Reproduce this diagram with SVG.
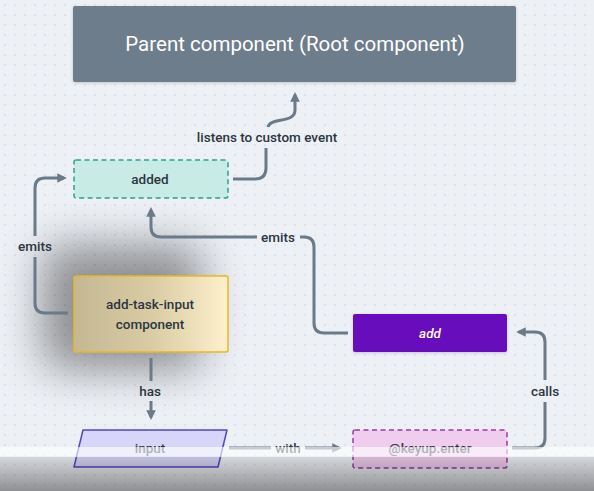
<svg xmlns="http://www.w3.org/2000/svg" width="594" height="491" viewBox="0 0 594 491">
<style>
.t{font-family:Roboto,"Noto Sans",sans-serif;font-weight:500;fill:#2c3541;text-anchor:middle;dominant-baseline:central}
.c{fill:none;stroke:#6b7a89;stroke-width:3;stroke-linejoin:round}
</style>
<defs>
<pattern id="dots" width="10" height="10" patternUnits="userSpaceOnUse">
<circle cx="5" cy="5" r="0.7" fill="#c3c9d1"/>
</pattern>
<marker id="ah" viewBox="0 0 10 10" refX="7" refY="5" markerWidth="3.2" markerHeight="3.2" orient="auto" markerUnits="strokeWidth">
<path d="M0,0 L10,5 L0,10 Z" fill="#6b7a89"/>
</marker>
<linearGradient id="yel" x1="0" y1="0" x2="1" y2="0">
<stop offset="0" stop-color="#c4b894"/>
<stop offset="0.5" stop-color="#d9cba3"/>
<stop offset="1" stop-color="#fdf0cb"/>
</linearGradient>
<filter id="blur" x="-1" y="-1" width="3" height="3">
<feGaussianBlur stdDeviation="22"/>
</filter>
<filter id="sh" x="-0.2" y="-0.4" width="1.4" height="1.8">
<feDropShadow dx="0" dy="1" stdDeviation="1.5" flood-color="#000" flood-opacity="0.18"/>
</filter>
<linearGradient id="ov" x1="0" y1="0" x2="0" y2="1">
<stop offset="0" stop-color="#000" stop-opacity="0.1"/>
<stop offset="1" stop-color="#000" stop-opacity="0.4"/>
</linearGradient>
</defs>
<rect width="594" height="491" fill="#edf0f5"/>
<rect width="594" height="491" fill="url(#dots)"/>

<g id="shadow">
<rect x="42" y="245" width="160" height="125" rx="20" fill="#000" opacity="0.4" filter="url(#blur)"/>
</g>

<g id="connectors">
<path class="c" d="M233,179 H255 Q266,179 266,168 V148"/>
<path class="c" d="M268,127 C270,117 295,124 295,110 V95" marker-end="url(#ah)"/>
<text class="t" x="267" y="137" font-size="13.5">listens to custom event</text>

<path class="c" d="M68,313 H45 Q35,313 35,303 V257"/>
<path class="c" d="M35,236 V188 Q35,178 45,178 H64" marker-end="url(#ah)"/>
<text class="t" x="35" y="246" font-size="13.5">emits</text>

<path class="c" d="M348,333 H324 Q314,333 314,323 V247 Q314,237 304,237 H300"/>
<path class="c" d="M257,237 H161 Q151,237 151,227 V210" marker-end="url(#ah)"/>
<text class="t" x="278" y="237" font-size="13.5">emits</text>

<path class="c" d="M151,358 V381"/>
<path class="c" d="M151,401 V417" marker-end="url(#ah)"/>
<text class="t" x="150" y="391" font-size="13.5">has</text>

<path class="c" d="M229,448 H271"/>
<path class="c" d="M305,448 H339" marker-end="url(#ah)"/>
<text class="t" x="288" y="448" font-size="13.5">with</text>

<path class="c" d="M512,448 H535 Q545,448 545,438 V402"/>
<path class="c" d="M545,380 V342 Q545,332 535,332 H519" marker-end="url(#ah)"/>
<text class="t" x="545" y="391" font-size="13.5">calls</text>
</g>

<g id="parent">
<rect x="73" y="6" width="443" height="76" rx="2" fill="#6e7d8b" filter="url(#sh)"/>
<text class="t" x="295" y="44" font-size="20.5" style="fill:#ffffff;font-weight:400">Parent component (Root component)</text>
</g>

<g id="added">
<rect x="74" y="160" width="154" height="38" rx="2" fill="#c8ebe6" stroke="#2aa093" stroke-width="1.5" stroke-dasharray="5,3.5"/>
<text class="t" x="150" y="179" font-size="13.5">added</text>
</g>

<g id="add-task-input">
<rect x="74" y="276" width="154" height="76" rx="2" fill="url(#yel)" stroke="#e8b824" stroke-width="1.5"/>
<text class="t" x="150" y="304" font-size="13.5">add-task-input</text>
<text class="t" x="150" y="324" font-size="13.5">component</text>
</g>

<g id="add">
<rect x="353" y="314" width="154" height="38" rx="2" fill="#680fbb" filter="url(#sh)"/>
<text class="t" x="430" y="333" font-size="13.5" font-style="italic" style="fill:#ffffff">add</text>
</g>

<g id="input">
<polygon points="83,430 227,430 218,467 74,467" fill="#d8d6f8" stroke="#5146c7" stroke-width="1.5" stroke-linejoin="round"/>
<text class="t" x="150" y="448" font-size="13.5">input</text>
</g>

<g id="keyup">
<rect x="353" y="430" width="154" height="38" rx="2" fill="#f0cdee" stroke="#9e36a8" stroke-width="1.5" stroke-dasharray="5,3.5"/>
<text class="t" x="430" y="448" font-size="13.5">@keyup.enter</text>
</g>

<g id="overlay">
<rect x="0" y="456" width="594" height="35" fill="url(#ov)"/>
<rect x="0" y="447" width="594" height="10" fill="#ffffff" opacity="0.62"/>
</g>
</svg>
